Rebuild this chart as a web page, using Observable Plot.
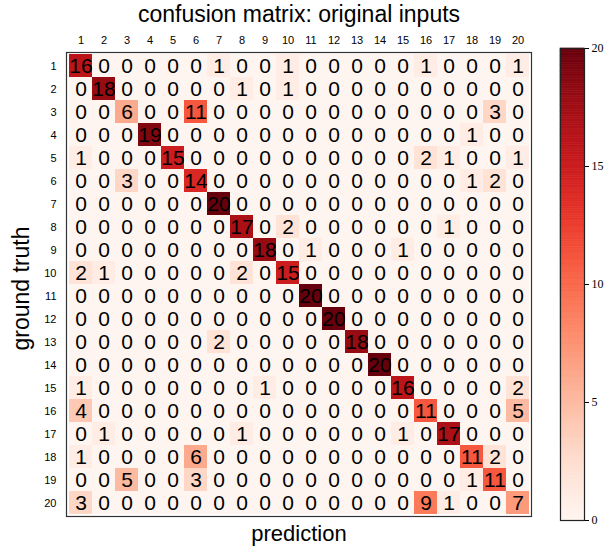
<!DOCTYPE html>
<html><head><meta charset="utf-8">
<script src="https://cdn.jsdelivr.net/npm/d3@7"></script>
<script src="https://cdn.jsdelivr.net/npm/@observablehq/plot@0.6"></script>
<style>
body{margin:0;background:#fff}
#wrap{position:relative;width:608px;height:546px;overflow:hidden}
#wrap svg{position:absolute;top:0}
</style>
</head><body><div id="wrap"></div>
<script>
const classes = ["1","2","3","4","5","6","7","8","9","10","11","12","13","14","15","16","17","18","19","20"];
const titleText = "confusion matrix: original inputs";
const xLabel = "prediction";
const yLabel = "ground truth";
const colorTicks = [0, 5, 10, 15, 20];
// rows = ground truth, columns = prediction
const counts = [
  [16,0,0,0,0,0,1,0,0,1,0,0,0,0,0,1,0,0,0,1],
  [0,18,0,0,0,0,0,1,0,1,0,0,0,0,0,0,0,0,0,0],
  [0,0,6,0,0,11,0,0,0,0,0,0,0,0,0,0,0,0,3,0],
  [0,0,0,19,0,0,0,0,0,0,0,0,0,0,0,0,0,1,0,0],
  [1,0,0,0,15,0,0,0,0,0,0,0,0,0,0,2,1,0,0,1],
  [0,0,3,0,0,14,0,0,0,0,0,0,0,0,0,0,0,1,2,0],
  [0,0,0,0,0,0,20,0,0,0,0,0,0,0,0,0,0,0,0,0],
  [0,0,0,0,0,0,0,17,0,2,0,0,0,0,0,0,1,0,0,0],
  [0,0,0,0,0,0,0,0,18,0,1,0,0,0,1,0,0,0,0,0],
  [2,1,0,0,0,0,0,2,0,15,0,0,0,0,0,0,0,0,0,0],
  [0,0,0,0,0,0,0,0,0,0,20,0,0,0,0,0,0,0,0,0],
  [0,0,0,0,0,0,0,0,0,0,0,20,0,0,0,0,0,0,0,0],
  [0,0,0,0,0,0,2,0,0,0,0,0,18,0,0,0,0,0,0,0],
  [0,0,0,0,0,0,0,0,0,0,0,0,0,20,0,0,0,0,0,0],
  [1,0,0,0,0,0,0,0,1,0,0,0,0,0,16,0,0,0,0,2],
  [4,0,0,0,0,0,0,0,0,0,0,0,0,0,0,11,0,0,0,5],
  [0,1,0,0,0,0,0,1,0,0,0,0,0,0,1,0,17,0,0,0],
  [1,0,0,0,0,6,0,0,0,0,0,0,0,0,0,0,0,11,2,0],
  [0,0,5,0,0,3,0,0,0,0,0,0,0,0,0,0,0,1,11,0],
  [3,0,0,0,0,0,0,0,0,0,0,0,0,0,0,9,1,0,0,7]
];

const data = [];
counts.forEach((row, i) => row.forEach((v, j) => data.push({truth: classes[i], pred: classes[j], v})));
const color = {type: "linear", scheme: "reds", domain: [0, 20]};
const sans = "'Liberation Sans', 'DejaVu Sans', sans-serif";

const main = Plot.plot({
  width: 608, height: 546,
  marginLeft: 66, marginRight: 77, marginTop: 52, marginBottom: 30,
  style: {fontFamily: sans, background: "transparent", color: "#000"},
  x: {domain: classes, padding: 0, axis: null},
  y: {domain: classes, padding: 0, axis: null},
  color,
  marks: [
    Plot.cell(data, {x: "pred", y: "truth", fill: "v"}),
    Plot.text(data, {x: "pred", y: "truth", text: "v", fontSize: 21, fill: "#000"}),
    Plot.frame({stroke: "#333", strokeWidth: 1.2}),
    Plot.axisX({anchor: "top", tickSize: 0, tickPadding: 9, fontSize: 11, label: null}),
    Plot.axisY({anchor: "left", tickSize: 0, tickPadding: 10, fontSize: 11, label: null}),
    Plot.text([titleText], {text: d => d, frameAnchor: "top", dy: -38, lineAnchor: "middle", fontSize: 23}),
    Plot.text([xLabel], {text: d => d, frameAnchor: "bottom", dy: 17, lineAnchor: "middle", fontSize: 22}),
    Plot.text([yLabel], {text: d => d, frameAnchor: "left", dx: -45, dy: 4, textAnchor: "middle", lineAnchor: "middle", rotate: -90, fontSize: 23})
  ]
});

const step = 0.1;
const steps = d3.range(0, 20, step);
const bar = Plot.plot({
  width: 68, height: 546,
  marginLeft: 20, marginRight: 24, marginTop: 48, marginBottom: 26,
  style: {fontFamily: "'Liberation Serif', 'DejaVu Serif', serif", background: "transparent", color: "#000"},
  y: {domain: [0, 20], axis: null},
  color,
  marks: [
    Plot.rectY(steps, {y1: d => d, y2: d => d + step, fill: d => d + step / 2, stroke: d => d + step / 2, strokeWidth: 0.6}),
    Plot.frame({stroke: "#222", strokeWidth: 1.2}),
    Plot.axisY({anchor: "right", ticks: colorTicks, tickSize: 4, tickPadding: 3, fontSize: 12, label: null})
  ]
});
bar.style.left = "540px";

const wrap = document.getElementById("wrap");
wrap.appendChild(main);
wrap.appendChild(bar);
</script>
</body></html>
